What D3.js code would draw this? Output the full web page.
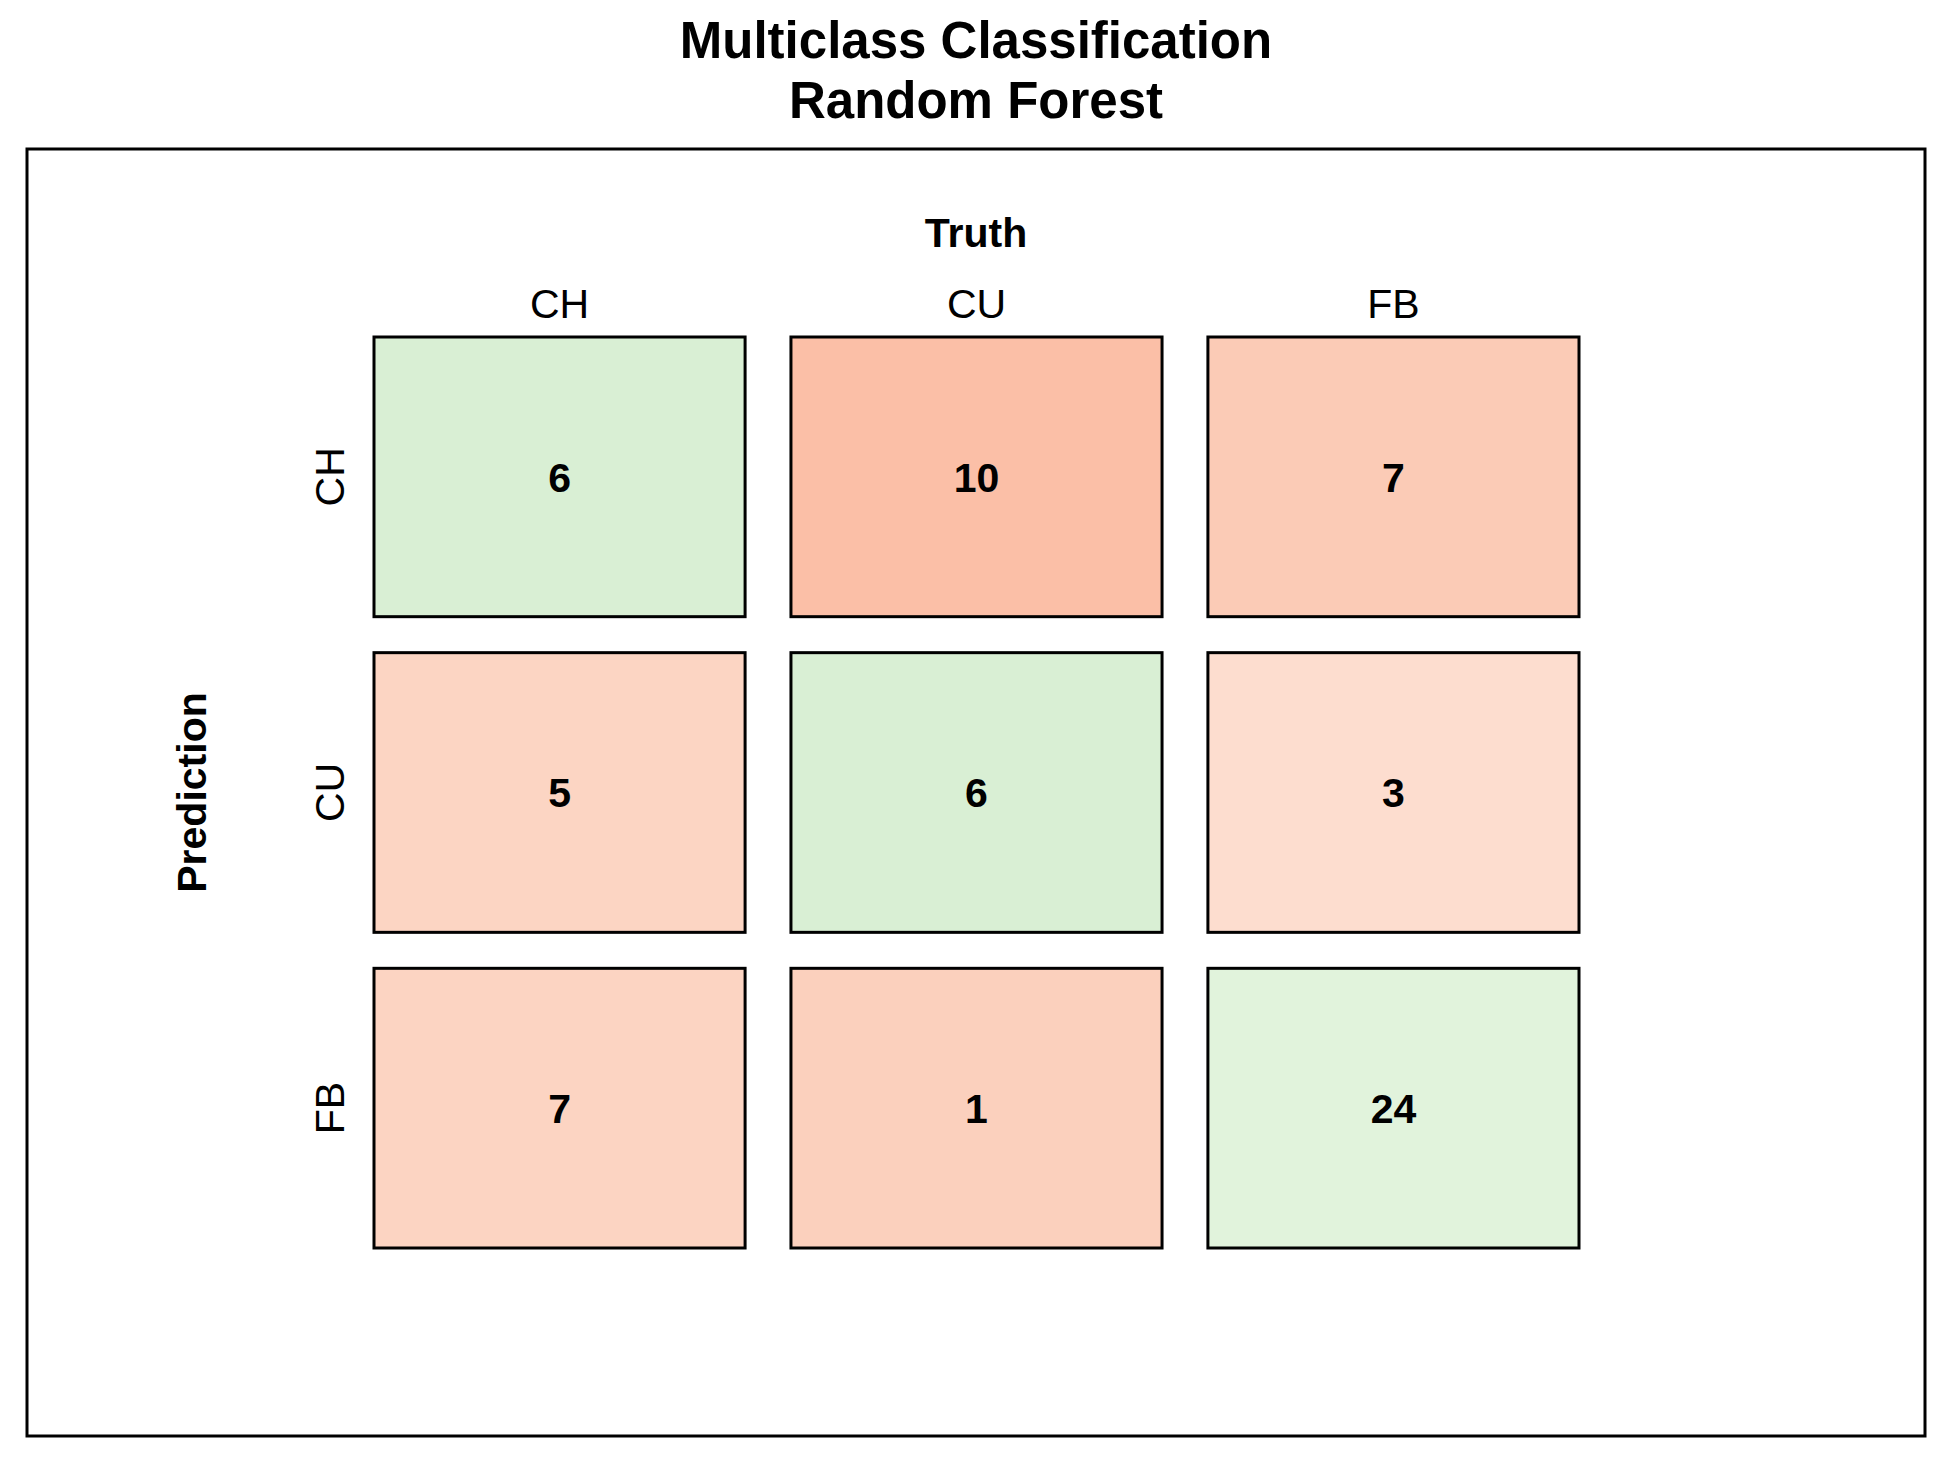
<!DOCTYPE html>
<html>
<head>
<meta charset="utf-8">
<script src="https://cdn.jsdelivr.net/npm/d3@7"></script>
<style>
  html, body { margin: 0; padding: 0; background: #fff; }
  svg { display: block; font-family: "Liberation Sans", Arial, Helvetica, sans-serif; }
</style>
</head>
<body>
<script>
// ---- data ----
const truthClasses = ["CH", "CU", "FB"];       // columns
const predClasses  = ["CH", "CU", "FB"];       // rows
// counts[row = prediction][col = truth]
const countsCH = [6, 10, 7];
const countsCU = [5, 6, 3];
const countsFB = [7, 1, 24];
const counts = [countsCH, countsCU, countsFB];
// cell fill colours (row-major)
const fillCH = ["#d9efd4", "#fbbfa7", "#fbcbb6"];
const fillCU = ["#fcd5c3", "#d9efd4", "#fdddcf"];
const fillFB = ["#fcd4c2", "#fbd0bd", "#e1f3dc"];
const fills = [fillCH, fillCU, fillFB];
const titleLines = ["Multiclass Classification", "Random Forest"];
const xTitle = "Truth";
const yTitle = "Prediction";

// ---- layout ----
const W = 1950, H = 1467;
const svg = d3.select("body").append("svg").attr("width", W).attr("height", H);

const x = d3.scaleBand().domain(truthClasses).range([374, 1579]).paddingInner(0.11);
const y = d3.scaleBand().domain(predClasses).range([337, 1248]).paddingInner(0.114);

// outer box
svg.append("rect")
  .attr("x", 27).attr("y", 149).attr("width", 1898).attr("height", 1287)
  .attr("fill", "none").attr("stroke", "#000").attr("stroke-width", 3);

// title
svg.append("g").selectAll("text").data(titleLines).join("text")
  .attr("x", 976).attr("y", (d, i) => 58 + i * 60)
  .attr("text-anchor", "middle")
  .attr("font-size", 51).attr("font-weight", "bold")
  .text(d => d);

// cells
const cells = [];
predClasses.forEach((p, i) => truthClasses.forEach((t, j) => {
  cells.push({ pred: p, truth: t, value: counts[i][j], fill: fills[i][j] });
}));

const g = svg.append("g");
g.selectAll("rect.cell").data(cells).join("rect")
  .attr("class", "cell")
  .attr("x", d => x(d.truth)).attr("y", d => y(d.pred))
  .attr("width", x.bandwidth()).attr("height", y.bandwidth())
  .attr("fill", d => d.fill).attr("stroke", "#000").attr("stroke-width", 3);

g.selectAll("text.val").data(cells).join("text")
  .attr("class", "val")
  .attr("x", d => x(d.truth) + x.bandwidth() / 2)
  .attr("y", d => y(d.pred) + y.bandwidth() / 2)
  .attr("dy", "0.36em")
  .attr("text-anchor", "middle")
  .attr("font-size", 41).attr("font-weight", "bold")
  .text(d => d.value);

// top axis (truth)
const ax = svg.append("g").attr("transform", `translate(0,${337})`)
  .call(d3.axisTop(x).tickSize(0).tickPadding(19));
ax.select(".domain").remove();
ax.selectAll("text").attr("font-size", 41).attr("font-family", null).attr("fill", "#000");

// left axis (prediction), rotated labels
const ay = svg.append("g").attr("transform", `translate(${374},0)`)
  .call(d3.axisLeft(y).tickSize(0));
ay.select(".domain").remove();
ay.selectAll("text")
  .attr("font-size", 41).attr("font-family", null).attr("fill", "#000")
  .attr("transform", "rotate(-90)")
  .attr("x", 0).attr("y", -30).attr("dy", 0)
  .attr("text-anchor", "middle");

// axis titles
svg.append("text").attr("x", 976).attr("y", 247)
  .attr("text-anchor", "middle").attr("font-size", 41).attr("font-weight", "bold")
  .text(xTitle);
svg.append("text")
  .attr("transform", `translate(206,${(y.range()[0] + y.range()[1]) / 2}) rotate(-90)`)
  .attr("text-anchor", "middle").attr("font-size", 41).attr("font-weight", "bold")
  .text(yTitle);
</script>
</body>
</html>
